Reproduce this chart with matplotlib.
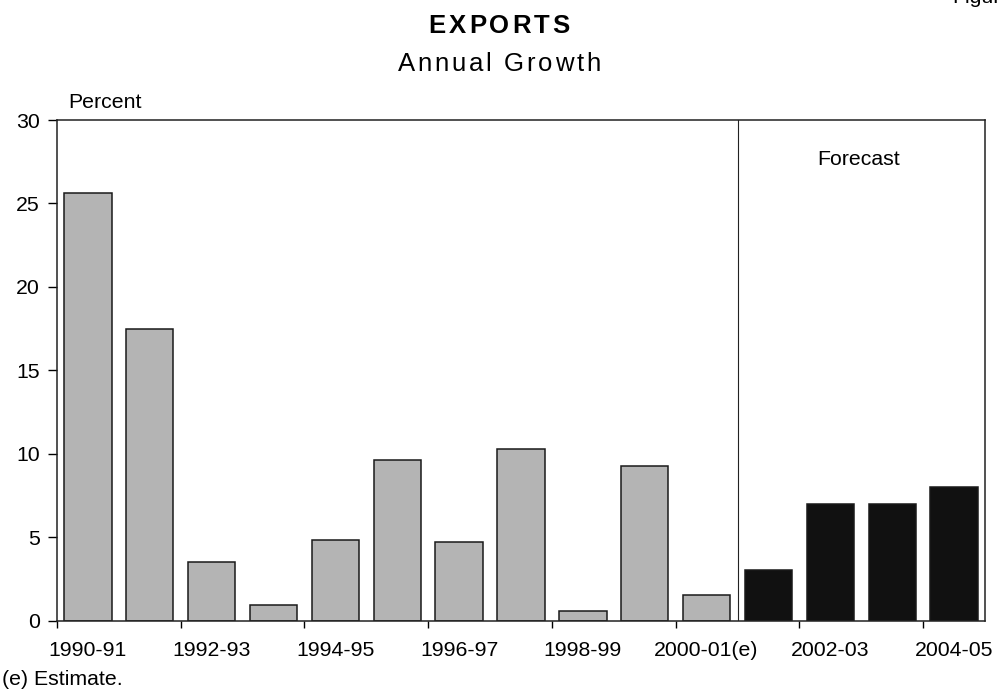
import numpy as np
import matplotlib
matplotlib.use('Agg')
import matplotlib.pyplot as plt
from matplotlib.font_manager import FontProperties, findfont, get_font

years = ['1990-91', '1991-92', '1992-93', '1993-94', '1994-95', '1995-96',
         '1996-97', '1997-98', '1998-99', '1999-00', '2000-01(e)',
         '2001-02', '2002-03', '2003-04', '2004-05']
growth = [25.6, 17.5, 3.5, 0.9, 4.8, 9.6, 4.7, 10.3, 0.55, 9.25, 1.5,
          3.0, 7.0, 7.0, 8.0]
n_actual = 11  # bars up to 2000-01 are actual, rest forecast
yticks = [0, 5, 10, 15, 20, 25, 30]

W, H = 998, 690
plt.rcParams['font.family'] = ['Liberation Sans', 'DejaVu Sans']

fig = plt.figure(figsize=(W / 100, H / 100), dpi=100)
ax = fig.add_axes([57 / W, 1 - 620.5 / H, (985 - 57) / W, (620.5 - 120) / H])

x = np.arange(len(years))
cols = ['#b4b4b4'] * n_actual + ['#111111'] * (len(years) - n_actual)
ax.bar(x, growth, width=0.765, color=cols, edgecolor='#1a1a1a', linewidth=1.1, zorder=2)

# divider between actual and forecast
ax.axvline(n_actual - 0.5, color='#222222', linewidth=0.8, zorder=1)
ax.text(12.45, 27.3, 'Forecast', ha='center', va='baseline', fontsize=15.3)

ax.set_xlim(-0.5, len(years) - 0.5)
ax.set_ylim(0, 30)
ax.set_yticks(yticks)
ax.tick_params(axis='y', direction='out', length=6.5, width=1.0, pad=6, labelsize=15.3)

# tick marks between categories, labels on every other category
ax.set_xticks(np.arange(-0.5, len(years) - 1, 2))
ax.set_xticklabels([])
ax.set_xticks(x[::2], minor=True)
ax.set_xticklabels([years[i] for i in x[::2]], minor=True)
ax.tick_params(axis='x', which='major', direction='out', length=5, width=1.0)
ax.tick_params(axis='x', which='minor', length=0, pad=15, labelsize=15.3)

for s in ax.spines.values():
    s.set_linewidth(1.1)
    s.set_color('#222222')

ax.text(68 / W, 1 - 108 / H, 'Percent', transform=fig.transFigure,
        ha='left', va='baseline', fontsize=15.3)
fig.text(2 / W, 1 - 685 / H, '(e) Estimate.', ha='left', va='baseline', fontsize=15.3)
# page label, cut off at the top edge as in the source
fig.text(952 / W, 1 - 3 / H, 'Figure', ha='left', va='baseline', fontsize=15.3)


def spaced(text, cx, base, size, weight='normal', gap=2.7):
    # letter-spaced line of text centred at cx (pixels), baseline at base (pixels from top)
    prop = FontProperties(family='Liberation Sans', size=size, weight=weight)
    font = get_font(findfont(prop))
    font.set_size(size, 100)
    adv = [font.load_char(ord(c)).linearHoriAdvance / 65536 for c in text]
    total = sum(adv) + gap * (len(text) - 1)
    px = cx - total / 2
    for c, a in zip(text, adv):
        fig.text(px / W, 1 - base / H, c, fontproperties=prop, ha='left', va='baseline')
        px += a + gap


spaced('EXPORTS', 499, 33, 18.5, weight='bold', gap=3)
spaced('Annual Growth', 499, 71, 18.5, gap=2.7)

fig.savefig('out.png', dpi=100)
